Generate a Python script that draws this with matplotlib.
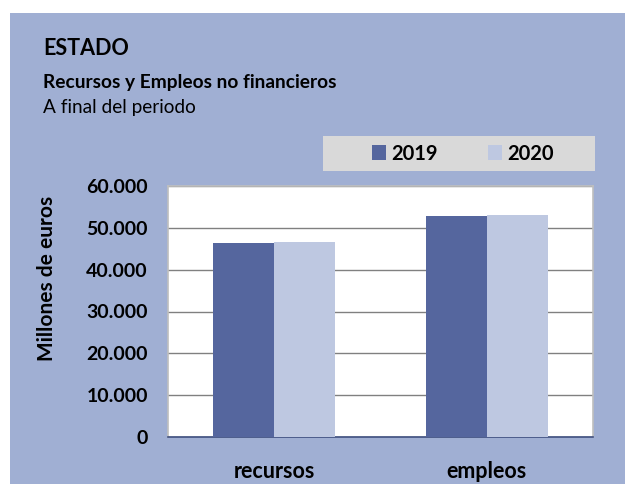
import matplotlib.pyplot as plt
import matplotlib.patches as mpatches
import numpy as np

# Data
categorias = ['recursos', 'empleos']
valores_2019 = [46450, 52830]
valores_2020 = [46700, 53000]
series = ['2019', '2020']

plt.rcParams['font.family'] = ['Lato', 'DejaVu Sans']

c_panel = '#A0AFD3'
c_2019 = '#55669E'
c_2020 = '#BEC8E1'

fig = plt.figure(figsize=(6.25, 4.84), dpi=100)
W, H = 625, 484

# blue panel behind everything
fig.patches.append(mpatches.Rectangle((10 / W, 0), 1 - 10 / W, 1 - 13 / H,
                                      transform=fig.transFigure, facecolor=c_panel,
                                      edgecolor='none', zorder=-2))

# titles
fig.text(43 / W, 1 - 55 / H, 'ESTADO', fontsize=15.5, fontweight='bold')
fig.text(43 / W, 1 - 88 / H, 'Recursos y Empleos no financieros', fontsize=13.8, fontweight='bold')
fig.text(43 / W, 1 - 113 / H, 'A final del periodo', fontsize=13.7)

ax = fig.add_axes([168 / W, 47 / H, 425 / W, 251 / H])
ax.set_zorder(2)
ax.set_facecolor('white')

x = np.arange(len(categorias))
w = 0.287
ax.bar(x - w / 2, valores_2019, w, color=c_2019, label=series[0], zorder=3)
ax.bar(x + w / 2, valores_2020, w, color=c_2020, label=series[1], zorder=3)

ax.set_xlim(-0.5, 1.5)
ax.set_ylim(0, 60000)
ax.set_yticks(range(0, 60001, 10000))
ax.set_yticklabels(['0' if v == 0 else f'{v // 1000}.000' for v in range(0, 60001, 10000)],
                   fontsize=14, fontweight='bold')
ax.set_xticks(x)
ax.set_xticklabels(categorias, fontsize=15.5, fontweight='bold')
ax.tick_params(axis='both', length=0)
ax.tick_params(axis='y', pad=14.5)
ax.tick_params(axis='x', pad=17)
ax.grid(axis='y', color='#808080', linewidth=1, zorder=1)

for s in ['top', 'right', 'left']:
    ax.spines[s].set_color('#BFBFBF')
    ax.spines[s].set_linewidth(1.2)
ax.spines['bottom'].set_color('#3F4F7F')
ax.spines['bottom'].set_linewidth(1.2)

fig.text(47 / W, 1 - 278 / H, 'Millones de euros', rotation=90, ha='center', va='center',
         fontsize=15, fontweight='bold')

# legend box
fig.patches.append(mpatches.Rectangle((323 / W, 1 - 171 / H), 272 / W, 35 / H,
                                      transform=fig.transFigure, facecolor='#D9D9D9',
                                      edgecolor='none', zorder=-1))
fig.legend(loc='center', bbox_to_anchor=(463 / W, 1 - 153.5 / H), ncol=2, frameon=False,
           prop={'weight': 'bold', 'size': 14.5}, handlelength=0.7, handleheight=0.7,
           handletextpad=0.25, columnspacing=2.5)

fig.savefig('out.png', dpi=100)
